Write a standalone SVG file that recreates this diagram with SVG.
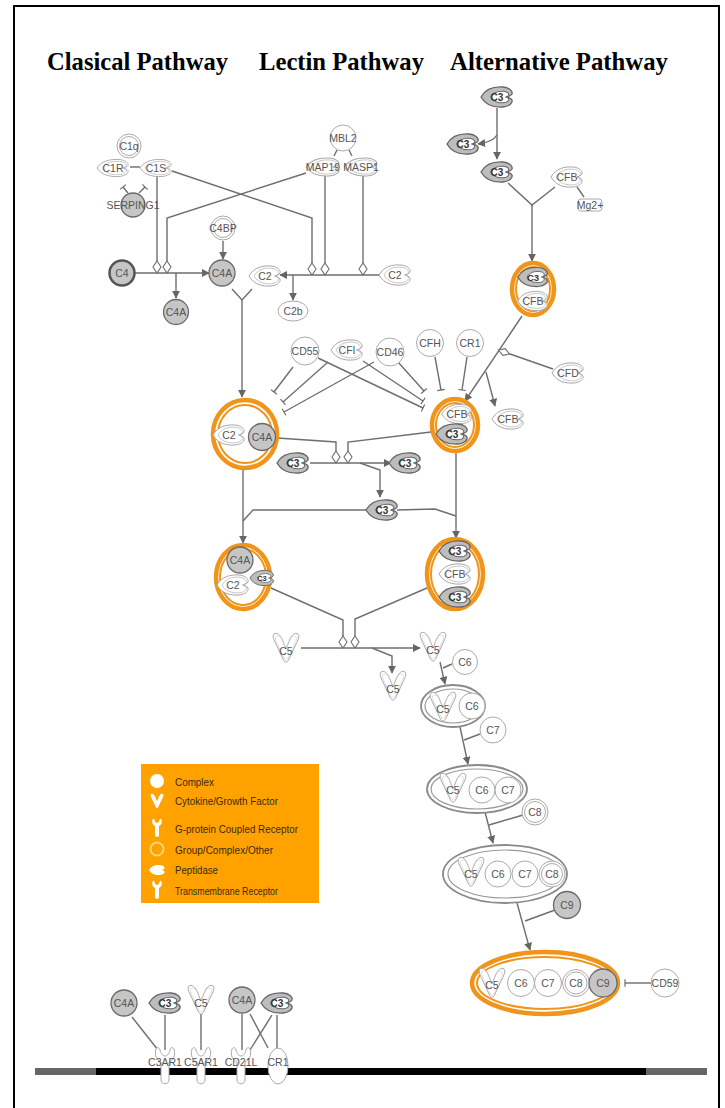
<svg xmlns="http://www.w3.org/2000/svg" width="725" height="1108" viewBox="0 0 725 1108">
<style>
.t{font-family:"Liberation Sans",Arial,sans-serif;font-size:10.5px;fill:#555;text-anchor:middle;dominant-baseline:central}
.td{font-family:"Liberation Sans",Arial,sans-serif;font-size:10px;fill:#333;text-anchor:middle;dominant-baseline:central;font-weight:bold}
.ti{font-family:"Liberation Serif","Times New Roman",serif;font-weight:bold;font-size:25px;fill:#000}
.ln{fill:none;stroke:#6e6e6e;stroke-width:1.4}
.ar{marker-end:url(#ah)}
.in{marker-end:url(#tee)}
.dm{fill:#fff;stroke:#6e6e6e;stroke-width:1.1}
.cw{fill:#fff;stroke:#aaa;stroke-width:1}
.cr{fill:none;stroke:#aaa;stroke-width:1}
.cg{fill:#c6c6c6;stroke:#6a6a6a;stroke-width:1.3}
.pw{fill:#fff;stroke:#a8a8a8;stroke-width:1}
.pwi{fill:none;stroke:#b5b5b5;stroke-width:1}
.pwc{fill:none;stroke:#cfcfcf;stroke-width:0.8}
.pg{fill:#bdbdbd;stroke:#666;stroke-width:1.3}
.pgi{fill:#fff;stroke:#666;stroke-width:1.8}
.ow{fill:#fff;stroke:#F0951A;stroke-width:4.5}
.oi{fill:none;stroke:#F0951A;stroke-width:2}
.gw{fill:#fff;stroke:#8a8a8a;stroke-width:1.8}
.gi{fill:none;stroke:#9a9a9a;stroke-width:1.2}
.lg{font-family:"Liberation Sans",Arial,sans-serif;font-size:11px;fill:#3a2a10;dominant-baseline:central}
.li{fill:#fff}
</style>
<defs>
<marker id="ah" viewBox="0 0 10 10" refX="9" refY="5" markerWidth="8" markerHeight="8" markerUnits="userSpaceOnUse" orient="auto"><path d="M0,0 L10,5 L0,10 Z" fill="#666"/></marker>
<marker id="tee" viewBox="0 0 4 10" refX="2" refY="5" markerWidth="3" markerHeight="9" markerUnits="userSpaceOnUse" orient="auto"><path d="M2,0 L2,10" stroke="#666" stroke-width="1.5"/></marker>
<path id="pep" d="M-16,0 C-11,-9 -2,-10.5 6,-10 C12,-9.5 16,-6 15,-3 C14,-1 11,-0.5 10,0 C11,0.5 14,1 15,3 C16,6 12,9.5 6,10 C-2,10.5 -11,9 -16,0 Z"/>
<path id="cyt" d="M-12,-14 C-9,-16 -6,-13 -4,-9 L0,1 L4,-9 C6,-13 9,-16 12,-14 C14,-12 12,-8 10,-4 L3,11 C1.5,15 -1.5,15 -3,11 L-10,-4 C-12,-8 -14,-12 -12,-14 Z"/>
<path id="rec" d="M-9,-13 C-11,-6 -8,-2 -4,0 L-4,18 C-4,23 4,23 4,18 L4,0 C8,-2 11,-6 9,-13 C8,-15 6,-15 5,-12 C4,-8 2,-6 0,-6 C-2,-6 -4,-8 -5,-12 C-6,-15 -8,-15 -9,-13 Z"/>
<g id="pd"><use href="#pep" class="pw"/><use href="#pep" class="pwi" transform="translate(1.5,0) scale(0.78)"/></g>
<g id="c3"><use href="#pep" class="pg"/><use href="#pep" class="pgi" transform="translate(3,0) scale(0.58)"/><text class="td">C3</text></g>
<g id="cy"><use href="#cyt" class="pw"/><use href="#cyt" class="pwc" transform="scale(0.82)"/></g>
</defs>

<!-- frame -->
<path d="M14,1108 L14,6 L719,6 L719,1108" fill="none" stroke="#000" stroke-width="2"/>

<!-- titles -->
<g id="titles">
<text class="ti" x="47" y="70" textLength="181" lengthAdjust="spacingAndGlyphs">Clasical Pathway</text>
<text class="ti" x="259" y="70" textLength="165" lengthAdjust="spacingAndGlyphs">Lectin Pathway</text>
<text class="ti" x="450" y="70" textLength="218" lengthAdjust="spacingAndGlyphs">Alternative Pathway</text>
</g>

<!-- membrane -->
<g id="membrane">
<rect x="35" y="1068" width="672" height="7" fill="#666"/>
<rect x="96" y="1068" width="550" height="7" fill="#000"/>
</g>

<!-- legend -->
<g id="legend">
<rect x="141" y="764" width="178" height="139" fill="#FFA200"/>
<circle class="li" cx="157" cy="781" r="7"/>
<text class="lg" x="175" y="782" textLength="39" lengthAdjust="spacingAndGlyphs">Complex</text>
<use href="#cyt" class="li" transform="translate(157,801) scale(0.5)"/>
<text class="lg" x="175" y="801" textLength="103" lengthAdjust="spacingAndGlyphs">Cytokine/Growth Factor</text>
<use href="#rec" class="li" transform="translate(157,826) scale(0.5)"/>
<text class="lg" x="175" y="829" textLength="123" lengthAdjust="spacingAndGlyphs">G-protein Coupled Receptor</text>
<circle cx="157" cy="849" r="6.5" fill="none" stroke="#FFD27A" stroke-width="2"/>
<text class="lg" x="175" y="850" textLength="98" lengthAdjust="spacingAndGlyphs">Group/Complex/Other</text>
<use href="#pep" class="li" transform="translate(157,870) scale(0.5)"/>
<text class="lg" x="175" y="870" textLength="43" lengthAdjust="spacingAndGlyphs">Peptidase</text>
<use href="#rec" class="li" transform="translate(157,888) scale(0.5)"/>
<text class="lg" x="175" y="891" textLength="103" lengthAdjust="spacingAndGlyphs">Transmembrane Receptor</text>
</g>

<!-- connectors -->
<g id="connectors">
<path class="ln" d="M130,167 L140,167"/>
<path class="ln in" d="M128,193 L123,187"/>
<path class="ln in" d="M139,193 L145,187"/>
<path class="ln" d="M157,176 L157,261"/>
<path class="ln" d="M172,171 L312,218 L312,263"/>
<path class="ln" d="M306,173 L167,218 L167,261"/>
<path class="ln" d="M325,176 L325,263"/>
<path class="ln" d="M363,176 L363,263"/>
<polygon class="dm" points="157,261 161,267 157,273 153,267"/>
<polygon class="dm" points="167,261 171,267 167,273 163,267"/>
<polygon class="dm" points="312,263 316,269 312,275 308,269"/>
<polygon class="dm" points="325,263 329,269 325,275 321,269"/>
<polygon class="dm" points="363,263 367,269 363,275 359,269"/>
<path class="ln ar" d="M135,273 L209,273"/>
<path class="ln ar" d="M176,273 L176,298"/>
<path class="ln ar" d="M223,241 L223,259"/>
<path class="ln ar" d="M380,275 L280,275"/>
<path class="ln ar" d="M293,275 L293,300"/>
<path class="ln" d="M337,150 L334,156 M349,150 L352,156"/>
<path class="ln" d="M232,289 L242,300 L252,289"/>
<path class="ln ar" d="M242,300 L242,397"/>

<path class="ln ar" d="M497,108 L497,159"/>
<path class="ln ar" d="M497,135 Q493,142 478,144"/>
<path class="ln" d="M508,183 L532,205 L555,187"/>
<path class="ln ar" d="M532,205 L532,261"/>
<path class="ln" d="M577,187 L584,197"/>
<path class="ln ar" d="M522,316 L465,401"/>
<path class="ln ar" d="M486,372 L495,406"/>
<path class="ln" d="M553,369 L510,354"/>
<polygon class="dm" points="-6,0 0,-3.5 6,0 0,3.5" transform="translate(504,352) rotate(20)"/>

<path class="ln in" d="M293,367 L274,392"/>
<path class="ln in" d="M318,358 L423,408"/>
<path class="ln in" d="M328,362 L283,402"/>
<path class="ln in" d="M363,361 L423,401"/>
<path class="ln in" d="M374,362 L284,412"/>
<path class="ln in" d="M398,362 L424,391"/>
<path class="ln in" d="M435,357 L441,390"/>
<path class="ln in" d="M467,357 L462,390"/>

<path class="ln" d="M277,438 L336,442 L336,451"/>
<path class="ln" d="M431,432 L348,442 L348,451"/>
<polygon class="dm" points="336,451 340,457 336,463 332,457"/>
<polygon class="dm" points="348,451 352,457 348,463 344,457"/>
<path class="ln ar" d="M310,463 L391,463"/>
<path class="ln ar" d="M360,463 L380,470 L380,497"/>
<path class="ln" d="M366,510 L253,510 L243,521"/>
<path class="ln" d="M397,510 L435,509 L456,516"/>
<path class="ln ar" d="M243,469 L243,543"/>
<path class="ln ar" d="M456,452 L456,538"/>

<path class="ln" d="M271,588 L343,620 L343,636"/>
<path class="ln" d="M427,588 L355,619 L355,636"/>
<polygon class="dm" points="343,636 347,642 343,648 339,642"/>
<polygon class="dm" points="355,636 359,642 355,648 351,642"/>
<path class="ln ar" d="M301,648 L420,648"/>
<path class="ln ar" d="M372,648 L392,656 L392,673"/>

<path class="ln ar" d="M440,662 L445,684"/>
<path class="ln" d="M452,664 L443,668"/>
<path class="ln ar" d="M460,727 L468,764"/>
<path class="ln" d="M480,734 L464,740"/>
<path class="ln ar" d="M485,812 L493,843"/>
<path class="ln" d="M523,815 L489,825"/>
<path class="ln ar" d="M517,903 L530,950"/>
<path class="ln" d="M555,910 L525,921"/>
<path class="ln in" d="M651,983 L625,983"/>

<path class="ln" d="M132,1017 L158,1050"/>
<path class="ln" d="M165,1015 L165,1050"/>
<path class="ln" d="M201,1014 L201,1050"/>
<path class="ln" d="M242,1014 L242,1050"/>
<path class="ln" d="M272,1015 L250,1050"/>
<path class="ln" d="M250,1014 L268,1048"/>
<path class="ln" d="M277,1015 L277,1048"/>
</g>

<!-- classical nodes -->
<g id="n-C1q" transform="translate(129,146)"><circle r="12" class="cw" stroke="#b8b8b8" stroke-width="1.5"/><circle r="9.5" class="cr"/><text class="t">C1q</text></g>
<g id="n-C1R" transform="translate(113,168)"><use href="#pd" transform="scale(1,0.85)"/><text class="t">C1R</text></g>
<g id="n-C1S" transform="translate(156,168)"><use href="#pd" transform="scale(1,0.85)"/><text class="t">C1S</text></g>
<g id="n-SERPING1" transform="translate(133,205)"><circle r="12" class="cg"/><text class="t">SERPING1</text></g>
<g id="n-C4" transform="translate(122,273)"><circle r="12.5" fill="#c6c6c6" stroke="#555" stroke-width="2.5"/><text class="t">C4</text></g>
<g id="n-C4A-1" transform="translate(222,273)"><circle r="13" class="cg"/><text class="t">C4A</text></g>
<g id="n-C4BP" transform="translate(223,228)"><circle r="12" class="cw" stroke="#b8b8b8" stroke-width="1.5"/><circle r="9.5" class="cr"/><text class="t">C4BP</text></g>
<g id="n-C4A-2" transform="translate(176,312)"><circle r="12.5" class="cg"/><text class="t">C4A</text></g>

<!-- lectin nodes -->
<g id="n-MBL2" transform="translate(343,138)"><circle r="13" class="cw"/><text class="t">MBL2</text></g>
<g id="n-MAP19" transform="translate(323,167)"><use href="#pd" transform="scale(1.05,0.9)"/><text class="t">MAP19</text></g>
<g id="n-MASP1" transform="translate(361,167)"><use href="#pd" transform="scale(1.05,0.9)"/><text class="t">MASP1</text></g>
<g id="n-C2-a" transform="translate(395,275)"><use href="#pd"/><text class="t">C2</text></g>
<g id="n-C2-b" transform="translate(265,276)"><use href="#pd"/><text class="t">C2</text></g>
<g id="n-C2b" transform="translate(293,311)"><ellipse rx="15" ry="10" class="cw"/><text class="t">C2b</text></g>

<!-- alternative nodes -->
<g id="n-C3-1" transform="translate(497,97)"><use href="#c3"/></g>
<g id="n-C3-2" transform="translate(463,144)"><use href="#c3"/></g>
<g id="n-C3-3" transform="translate(497,172)"><use href="#c3"/></g>
<g id="n-CFB-1" transform="translate(567,177)"><use href="#pd"/><text class="t">CFB</text></g>
<g id="n-Mg2" transform="translate(590,205)"><rect x="-12" y="-6" width="24" height="12" rx="3" fill="#fff" stroke="#aaa"/><text class="t" font-size="9.5">Mg2+</text></g>
<g id="n-C3bB" transform="translate(533,289)"><ellipse rx="21" ry="26" class="ow"/><ellipse rx="17" ry="22" class="oi"/><use href="#c3" transform="translate(0,-12) scale(0.95)"/><g transform="translate(0,12)"><use href="#pd" transform="scale(0.95)"/><text class="t">CFB</text></g></g>

<!-- middle nodes -->
<g id="n-CD55" transform="translate(305,351)"><circle r="14" class="cw"/><text class="t">CD55</text></g>
<g id="n-CFI" transform="translate(347,350)"><use href="#pd"/><text class="t">CFI</text></g>
<g id="n-CD46" transform="translate(390,352)"><circle r="14" class="cw"/><text class="t">CD46</text></g>
<g id="n-CFH" transform="translate(430,343)"><circle r="13.5" class="cw"/><text class="t">CFH</text></g>
<g id="n-CR1" transform="translate(470,343)"><circle r="13.5" class="cw"/><text class="t">CR1</text></g>
<g id="n-CFD" transform="translate(568,373)"><use href="#pd"/><text class="t">CFD</text></g>
<g id="n-CFB-2" transform="translate(508,419)"><use href="#pd"/><text class="t">CFB</text></g>
<g id="n-C3bBb" transform="translate(455,425)"><ellipse rx="23" ry="26" class="ow"/><ellipse rx="19" ry="22" class="oi"/><g transform="translate(2,-11)"><use href="#pd" transform="scale(0.95)"/><text class="t">CFB</text></g><use href="#c3" transform="translate(-3,9)"/></g>
<g id="n-C4bC2" transform="translate(245,434)"><ellipse rx="32" ry="34" class="ow"/><ellipse rx="27" ry="29" class="oi"/><g transform="translate(-16,1)"><use href="#pd"/><text class="t">C2</text></g><circle cx="17" cy="3" r="13.5" class="cg"/><text class="t" x="17" y="3">C4A</text></g>
<g id="n-C3-4" transform="translate(293,463)"><use href="#c3"/></g>
<g id="n-C3-5" transform="translate(405,463)"><use href="#c3"/></g>
<g id="n-C3-6" transform="translate(382,510)"><use href="#c3"/></g>

<!-- convertase complexes -->
<g id="n-C4bC2C3b" transform="translate(243,577)"><ellipse rx="27" ry="32" class="ow"/><ellipse rx="23" ry="28" class="oi"/><circle cx="-3" cy="-17" r="13" class="cg"/><text class="t" x="-3" y="-17">C4A</text><g transform="translate(-10,8)"><use href="#pd"/><text class="t">C2</text></g><use href="#c3" transform="translate(19,1) scale(0.75)"/></g>
<g id="n-C3bBbC3b" transform="translate(455,574)"><ellipse rx="28" ry="35" class="ow"/><ellipse rx="24" ry="31" class="oi"/><use href="#c3" transform="translate(0,-23)"/><g><use href="#pd"/><text class="t">CFB</text></g><use href="#c3" transform="translate(0,23)"/></g>

<!-- terminal pathway -->
<g id="n-C5-1" transform="translate(286,648)"><use href="#cy"/><text class="t" y="3">C5</text></g>
<g id="n-C5-2" transform="translate(433,647)"><use href="#cy"/><text class="t" y="3">C5</text></g>
<g id="n-C5-3" transform="translate(393,686)"><use href="#cy"/><text class="t" y="3">C5</text></g>
<g id="n-C6" transform="translate(465,662)"><circle r="12.5" class="cw"/><text class="t">C6</text></g>
<g id="n-C5C6" transform="translate(453,706)"><ellipse rx="32" ry="21" class="gw"/><ellipse rx="28" ry="17" class="gi"/><use href="#cy" transform="translate(-10,1)"/><text class="t" x="-10" y="3">C5</text><circle cx="19" cy="0" r="13" class="cw"/><text class="t" x="19">C6</text></g>
<g id="n-C7" transform="translate(493,730)"><circle r="13" class="cw"/><text class="t">C7</text></g>
<g id="n-C5C6C7" transform="translate(477,789)"><ellipse rx="50" ry="24" class="gw"/><ellipse rx="46" ry="20" class="gi"/><use href="#cy" transform="translate(-24,-1)"/><text class="t" x="-24" y="1">C5</text><circle cx="5" cy="1" r="13" class="cw"/><text class="t" x="5" y="1">C6</text><circle cx="31" cy="1" r="13" class="cw"/><text class="t" x="31" y="1">C7</text></g>
<g id="n-C8" transform="translate(535,812)"><circle r="13" class="cw" stroke="#b0b0b0" stroke-width="1.5"/><circle r="10.5" class="cr"/><text class="t">C8</text></g>
<g id="n-C5C6C7C8" transform="translate(505,874)"><ellipse rx="62" ry="29" class="gw"/><ellipse rx="57" ry="24" class="gi"/><use href="#cy" transform="translate(-34,-2)"/><text class="t" x="-34">C5</text><circle cx="-7" r="13" class="cw"/><text class="t" x="-7">C6</text><circle cx="20" r="13" class="cw"/><text class="t" x="20">C7</text><circle cx="47" r="13" class="cw" stroke="#b0b0b0" stroke-width="1.5"/><circle cx="47" r="10.5" class="cr"/><text class="t" x="47">C8</text></g>
<g id="n-C9" transform="translate(567,905)"><circle r="13.5" class="cg"/><text class="t">C9</text></g>
<g id="n-MAC" transform="translate(545,983)"><ellipse rx="73" ry="31" class="ow"/><ellipse rx="68" ry="26" class="oi"/><use href="#cy" transform="translate(-53,0)"/><text class="t" x="-53" y="2">C5</text><circle cx="-24" r="13.5" class="cw"/><text class="t" x="-24">C6</text><circle cx="3" r="13.5" class="cw"/><text class="t" x="3">C7</text><circle cx="31" r="13.5" class="cw" stroke="#b0b0b0" stroke-width="1.5"/><circle cx="31" r="11" class="cr"/><text class="t" x="31">C8</text><circle cx="58" r="14" class="cg"/><text class="t" x="58">C9</text></g>
<g id="n-CD59" transform="translate(665,983)"><circle r="14" class="cw"/><text class="t">CD59</text></g>

<!-- membrane receptors -->
<g id="n-C4A-b1" transform="translate(124,1003)"><circle r="13" class="cg"/><text class="t">C4A</text></g>
<g id="n-C3-b1" transform="translate(165,1003)"><use href="#c3"/></g>
<g id="n-C5-b" transform="translate(201,1000)"><use href="#cy"/><text class="t" y="3">C5</text></g>
<g id="n-C4A-b2" transform="translate(242,1000)"><circle r="13" class="cg"/><text class="t">C4A</text></g>
<g id="n-C3-b2" transform="translate(277,1003)"><use href="#c3"/></g>
<g id="n-C3AR1" transform="translate(165,1062)"><use href="#rec" class="pw"/><text class="t" y="0">C3AR1</text></g>
<g id="n-C5AR1" transform="translate(201,1062)"><use href="#rec" class="pw"/><text class="t" y="0">C5AR1</text></g>
<g id="n-CD21L" transform="translate(241,1062)"><use href="#rec" class="pw"/><text class="t" y="0">CD21L</text></g>
<g id="n-CR1-m" transform="translate(278,1066)"><ellipse rx="10" ry="18" class="cw"/><text class="t" y="-4">CR1</text></g>
</svg>
